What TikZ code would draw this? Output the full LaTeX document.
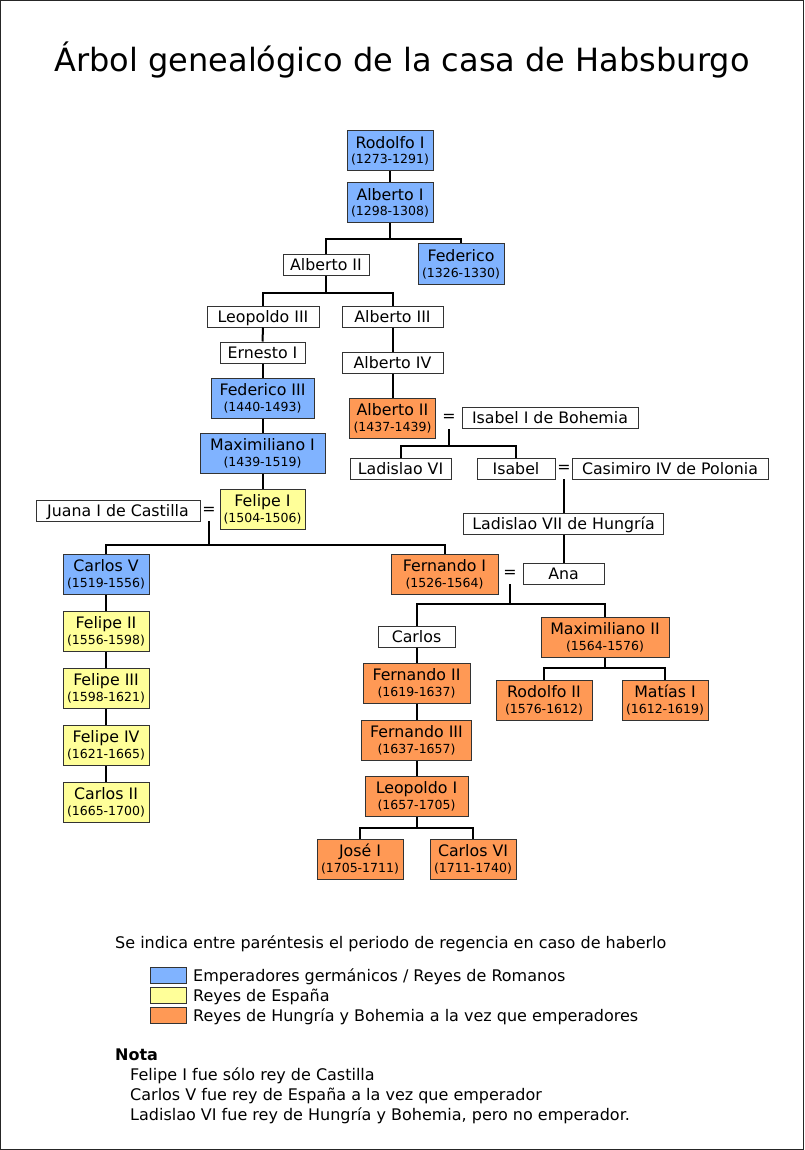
\documentclass[tikz,border=0pt]{standalone}
\usepackage{fontspec}
\setmainfont{DejaVu Sans}
\definecolor{emp}{HTML}{80B3FF}
\definecolor{esp}{HTML}{FFFF99}
\definecolor{hun}{HTML}{FF9955}
\definecolor{edge}{HTML}{333333}
\newcommand\namefont{\fontsize{15.8}{19}\selectfont}
\newcommand\datefont{\fontsize{12.5}{15}\selectfont}
\newcommand\legfont{\fontsize{16}{19}\selectfont}
\tikzset{
  pbox/.style={draw=edge, line width=1pt, inner sep=0pt, minimum height=40pt},
  sbox/.style={draw=edge, line width=1pt, fill=white, inner sep=0pt, minimum height=21pt,
    text height=11.6pt, text depth=0pt, font=\namefont},
  nm/.style={inner sep=0pt, anchor=base, font=\namefont},
  dt/.style={inner sep=0pt, anchor=base, font=\datefont},
  eqs/.style={inner sep=0pt, font=\namefont},
  link/.style={line width=2pt, black},
  legbox/.style={draw=edge, line width=1pt, inner sep=0pt, minimum width=36pt, minimum height=16pt},
  legtext/.style={inner sep=0pt, anchor=base west, font=\legfont},
}
% id, x, y, width, colour, name, date
\newcommand\pers[7]{%
  \node[pbox, fill=#5, minimum width=#4pt] (#1) at (#2,#3) {};
  \node[nm] (#1-n) at ([yshift=2.7pt]#1.center) {#6};
  \node[dt] (#1-d) at ([yshift=-13pt]#1.center) {#7};
}
\begin{document}
\begin{tikzpicture}[x=1pt,y=-1pt]
\useasboundingbox (0,0) rectangle (804,1150);
\fill[white] (0,0) rectangle (804,1150);
\draw[line width=1pt, black!85] (0.5,0.5) rectangle (803.5,1149.5);

\node[inner sep=0pt, anchor=base, font=\fontsize{32}{38}\selectfont] (title) at (402,72)
  {Árbol genealógico de la casa de Habsburgo};

% two-line boxes
\pers{rod}{390}{151}{86}{emp}{Rodolfo I}{(1273-1291)}
\pers{alba}{390}{203}{86}{emp}{Alberto I}{(1298-1308)}
\pers{fed}{461}{264}{86}{emp}{Federico}{(1326-1330)}
\pers{fedc}{262.5}{398}{103}{emp}{Federico III}{(1440-1493)}
\pers{maxa}{262.5}{453}{125}{emp}{Maximiliano I}{(1439-1519)}
\pers{fela}{262.5}{509}{85}{esp}{Felipe I}{(1504-1506)}
\pers{albh}{392.5}{418}{86}{hun}{Alberto II}{(1437-1439)}
\pers{carv}{106}{574}{86}{emp}{Carlos V}{(1519-1556)}
\pers{fera}{444.5}{574}{107}{hun}{Fernando I}{(1526-1564)}
\pers{felb}{106}{631}{86}{esp}{Felipe II}{(1556-1598)}
\pers{felc}{106}{688}{86}{esp}{Felipe III}{(1598-1621)}
\pers{feld}{106}{745}{86}{esp}{Felipe IV}{(1621-1665)}
\pers{carb}{106}{802}{86}{esp}{Carlos II}{(1665-1700)}
\pers{maxb}{605}{637}{128}{hun}{Maximiliano II}{(1564-1576)}
\pers{rodb}{544}{700}{96}{hun}{Rodolfo II}{(1576-1612)}
\pers{mat}{665}{700}{86}{hun}{Matías I}{(1612-1619)}
\pers{ferb}{416.5}{683}{107}{hun}{Fernando II}{(1619-1637)}
\pers{ferc}{416.5}{740}{110}{hun}{Fernando III}{(1637-1657)}
\pers{leoa}{416.5}{796}{103}{hun}{Leopoldo I}{(1657-1705)}
\pers{jos}{360}{859}{86}{hun}{José I}{(1705-1711)}
\pers{carvi}{473}{859}{86}{hun}{Carlos VI}{(1711-1740)}

% one-line boxes
\node[sbox, minimum width=86pt] (albb) at (326,264.5) {Alberto II};
\node[sbox, minimum width=112pt] (leoc) at (263,316.5) {Leopoldo III};
\node[sbox, minimum width=101pt] (albc) at (392.5,316.5) {Alberto III};
\node[sbox, minimum width=85pt] (ern) at (262.5,352.5) {Ernesto I};
\node[sbox, minimum width=101pt] (albd) at (392.5,362.5) {Alberto IV};
\node[sbox, minimum width=176pt] (isab) at (550,417.5) {Isabel I de Bohemia};
\node[sbox, minimum width=101pt] (ladv) at (400.5,468.5) {Ladislao VI};
\node[sbox, minimum width=78pt] (isa) at (516,468.5) {Isabel};
\node[sbox, minimum width=196pt] (cas) at (670,468.5) {Casimiro IV de Polonia};
\node[sbox, minimum width=200pt] (ladw) at (563.5,523.5) {Ladislao VII de Hungría};
\node[sbox, minimum width=81pt] (ana) at (563.5,573.5) {Ana};
\node[sbox, minimum width=164pt] (jua) at (118,510.5) {Juana I de Castilla};
\node[sbox, minimum width=77pt] (carl) at (416.5,636.5) {Carlos};

% marriage signs
\node[eqs] (eqa) at (449,418) {=};
\node[eqs] (eqb) at (564,468.5) {=};
\node[eqs] (eqc) at (209,511) {=};
\node[eqs] (eqd) at (510,574) {=};

% junction points
\coordinate (ja) at (390,239);
\coordinate (jb) at (326,293);
\coordinate (ma) at (449,429);
\coordinate (jc) at (449,446);
\coordinate (mb) at (563.5,479);
\coordinate (mc) at (209,521);
\coordinate (jd) at (209,545);
\coordinate (md) at (510,584);
\coordinate (je) at (510,604);
\coordinate (jf) at (605,668);
\coordinate (jg) at (416.5,828);

% connectors
\draw[link] (rod.south) -- (alba.north);
\draw[link] (alba.south) -- (ja);
\draw[link] (albb.north) |- (ja) -| (fed.north);
\draw[link] (albb.south) -- (jb);
\draw[link] (leoc.north) |- (jb) -| (albc.north);
\draw[link] (leoc.south) -- (ern.north);
\draw[link] (ern.south) -- (fedc.north);
\draw[link] (fedc.south) -- (maxa.north);
\draw[link] (maxa.south) -- (fela.north);
\draw[link] (albc.south) -- (albd.north);
\draw[link] (albd.south) -- (albh.north);
\draw[link] (ma) -- (jc);
\draw[link] (ladv.north) |- (jc) -| (isa.north);
\draw[link] (mb) -- (ladw.north);
\draw[link] (ladw.south) -- (ana.north);
\draw[link] (mc) -- (jd);
\draw[link] (carv.north) |- (jd) -| (fera.north);
\draw[link] (carv.south) -- (felb.north);
\draw[link] (felb.south) -- (felc.north);
\draw[link] (felc.south) -- (feld.north);
\draw[link] (feld.south) -- (carb.north);
\draw[link] (md) -- (je);
\draw[link] (carl.north) |- (je) -| (maxb.north);
\draw[link] (carl.south) -- (ferb.north);
\draw[link] (ferb.south) -- (ferc.north);
\draw[link] (ferc.south) -- (leoa.north);
\draw[link] (maxb.south) -- (jf);
\draw[link] (rodb.north) |- (jf) -| (mat.north);
\draw[link] (leoa.south) -- (jg);
\draw[link] (jos.north) |- (jg) -| (carvi.north);

% legend
\node[legtext] (intro) at (115,948) {Se indica entre paréntesis el periodo de regencia en caso de haberlo};
\node[legbox, fill=emp] (lga) at (168,975) {};
\node[legbox, fill=esp] (lgb) at (168,995.5) {};
\node[legbox, fill=hun] (lgc) at (168,1015) {};
\node[legtext] (lgat) at (193,981) {Emperadores germánicos / Reyes de Romanos};
\node[legtext] (lgbt) at (193,1001) {Reyes de España};
\node[legtext] (lgct) at (193,1021) {Reyes de Hungría y Bohemia a la vez que emperadores};
\node[legtext, font=\legfont\bfseries] (nota) at (115,1060) {Nota};
\node[legtext] (nta) at (130,1080) {Felipe I fue sólo rey de Castilla};
\node[legtext] (ntb) at (130,1100) {Carlos V fue rey de España a la vez que emperador};
\node[legtext] (ntc) at (130,1120) {Ladislao VI fue rey de Hungría y Bohemia, pero no emperador.};
\end{tikzpicture}
\end{document}
